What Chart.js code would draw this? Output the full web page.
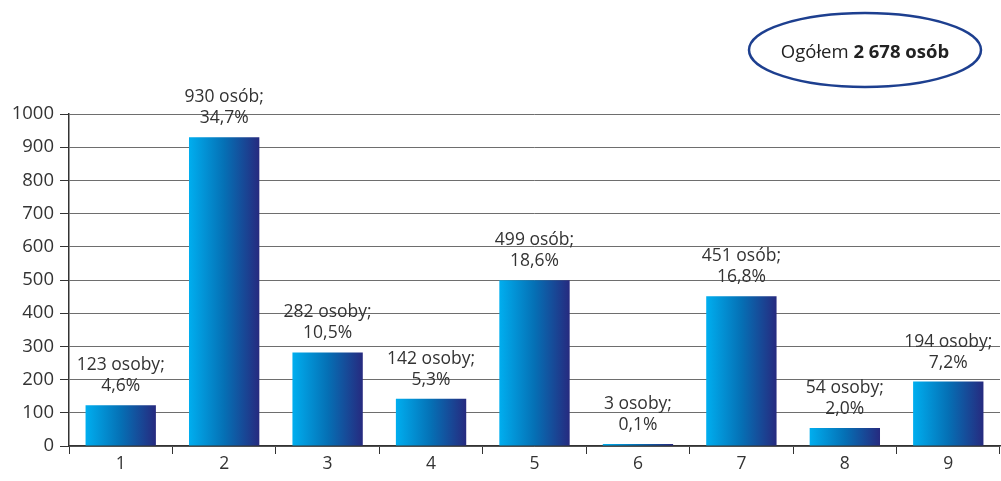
<!DOCTYPE html>
<html>
<head>
<meta charset="utf-8">
<script src="https://cdn.jsdelivr.net/npm/chart.js@4"></script>
<style>
  html, body { margin: 0; padding: 0; background: #fff; }
  #wrap { width: 1001px; height: 481px; position: relative; }
</style>
</head>
<body>
<div id="wrap"><canvas id="myChart"></canvas></div>
<script>
// dane wykresu
var categories = ['1', '2', '3', '4', '5', '6', '7', '8', '9'];
var counts = [123, 930, 282, 142, 499, 3, 451, 54, 194];
var countLabels = ['123 osoby;', '930 osób;', '282 osoby;', '142 osoby;', '499 osób;', '3 osoby;', '451 osób;', '54 osoby;', '194 osoby;'];
var percentLabels = ['4,6%', '34,7%', '10,5%', '5,3%', '18,6%', '0,1%', '16,8%', '2,0%', '7,2%'];
var yTicks = [0, 100, 200, 300, 400, 500, 600, 700, 800, 900, 1000];
var totalNormal = 'Ogółem ';
var totalBold = '2 678 osób';

var FONT = "'Open Sans', sans-serif";

// gradient na słupkach (od jasnoniebieskiego do granatowego)
function barGradient(context) {
    var chart = context.chart;
    var xs = chart.scales.x;
    if (!chart.chartArea || !xs) return '#0a7cc4';
    var cx = xs.getPixelForValue(context.dataIndex);
    var w = (xs.width / categories.length) * 0.68;
    var g = chart.ctx.createLinearGradient(cx - w / 2, 0, cx + w / 2, 0);
    g.addColorStop(0, '#00aeef');
    g.addColorStop(0.5, '#0570b5');
    g.addColorStop(1, '#262a7f');
    return g;
}

var labelsPlugin = {
    id: 'barLabels',
    afterDatasetsDraw: function(chart) {
        var ctx = chart.ctx;
        var meta = chart.getDatasetMeta(0);
        ctx.save();
        ctx.font = '17.5px ' + FONT;
        ctx.fillStyle = '#333';
        ctx.textAlign = 'center';
        ctx.textBaseline = 'middle';
        meta.data.forEach(function(bar, i) {
            ctx.fillText(countLabels[i], bar.x, bar.y - 40);
            ctx.fillText(percentLabels[i], bar.x, bar.y - 19);
        });
        ctx.restore();
    }
};

var ellipsePlugin = {
    id: 'totalEllipse',
    afterDraw: function(chart) {
        var ctx = chart.ctx;
        var cx = 865, cy = 50;
        ctx.save();
        ctx.beginPath();
        ctx.ellipse(cx, cy, 116, 37, 0, 0, Math.PI * 2);
        ctx.fillStyle = '#fff';
        ctx.fill();
        ctx.lineWidth = 2.5;
        ctx.strokeStyle = '#1d3f8f';
        ctx.stroke();
        ctx.textBaseline = 'middle';
        ctx.fillStyle = '#222';
        ctx.font = '18.5px ' + FONT;
        var w1 = ctx.measureText(totalNormal).width;
        ctx.font = 'bold 18.5px ' + FONT;
        var w2 = ctx.measureText(totalBold).width;
        var x0 = cx - (w1 + w2) / 2;
        ctx.font = '18.5px ' + FONT;
        ctx.textAlign = 'left';
        ctx.fillText(totalNormal, x0, cy + 3);
        ctx.font = 'bold 18.5px ' + FONT;
        ctx.fillText(totalBold, x0 + w1, cy + 3);
        ctx.restore();
    }
};

var ctx = document.getElementById('myChart').getContext('2d');
var myChart = new Chart(ctx, {
    type: 'bar',
    data: {
        labels: categories,
        datasets: [{
            data: counts,
            backgroundColor: barGradient,
            borderWidth: 0,
            minBarLength: 2,
            categoryPercentage: 1,
            barPercentage: 0.68
        }]
    },
    options: {
        responsive: true,
        maintainAspectRatio: false,
        animation: false,
        layout: { padding: { top: 114, right: 1, left: 0, bottom: 0 } },
        plugins: {
            legend: { display: false },
            tooltip: { enabled: false }
        },
        scales: {
            x: {
                grid: {
                    offset: true,
                    drawOnChartArea: false,
                    drawTicks: true,
                    tickLength: 8,
                    color: '#333'
                },
                border: { color: '#333', width: 1.5 },
                ticks: {
                    color: '#333',
                    font: { family: FONT, size: 17.5 },
                    padding: 0
                },
                afterFit: function(scale) { scale.height = 35; }
            },
            y: {
                min: 0,
                max: 1000,
                afterBuildTicks: function(scale) {
                    scale.ticks = yTicks.map(function(v) { return { value: v }; });
                },
                grid: {
                    color: '#6e6e6e',
                    lineWidth: 1,
                    tickLength: 9,
                    tickColor: '#333'
                },
                border: { color: '#333', width: 1.5 },
                ticks: {
                    color: '#333',
                    font: { family: FONT, size: 18.5 },
                    padding: 6,
                    callback: function(v) { return String(v); }
                },
                afterFit: function(scale) { scale.width = 69; }
            }
        }
    },
    plugins: [labelsPlugin, ellipsePlugin]
});
</script>
</body>
</html>
